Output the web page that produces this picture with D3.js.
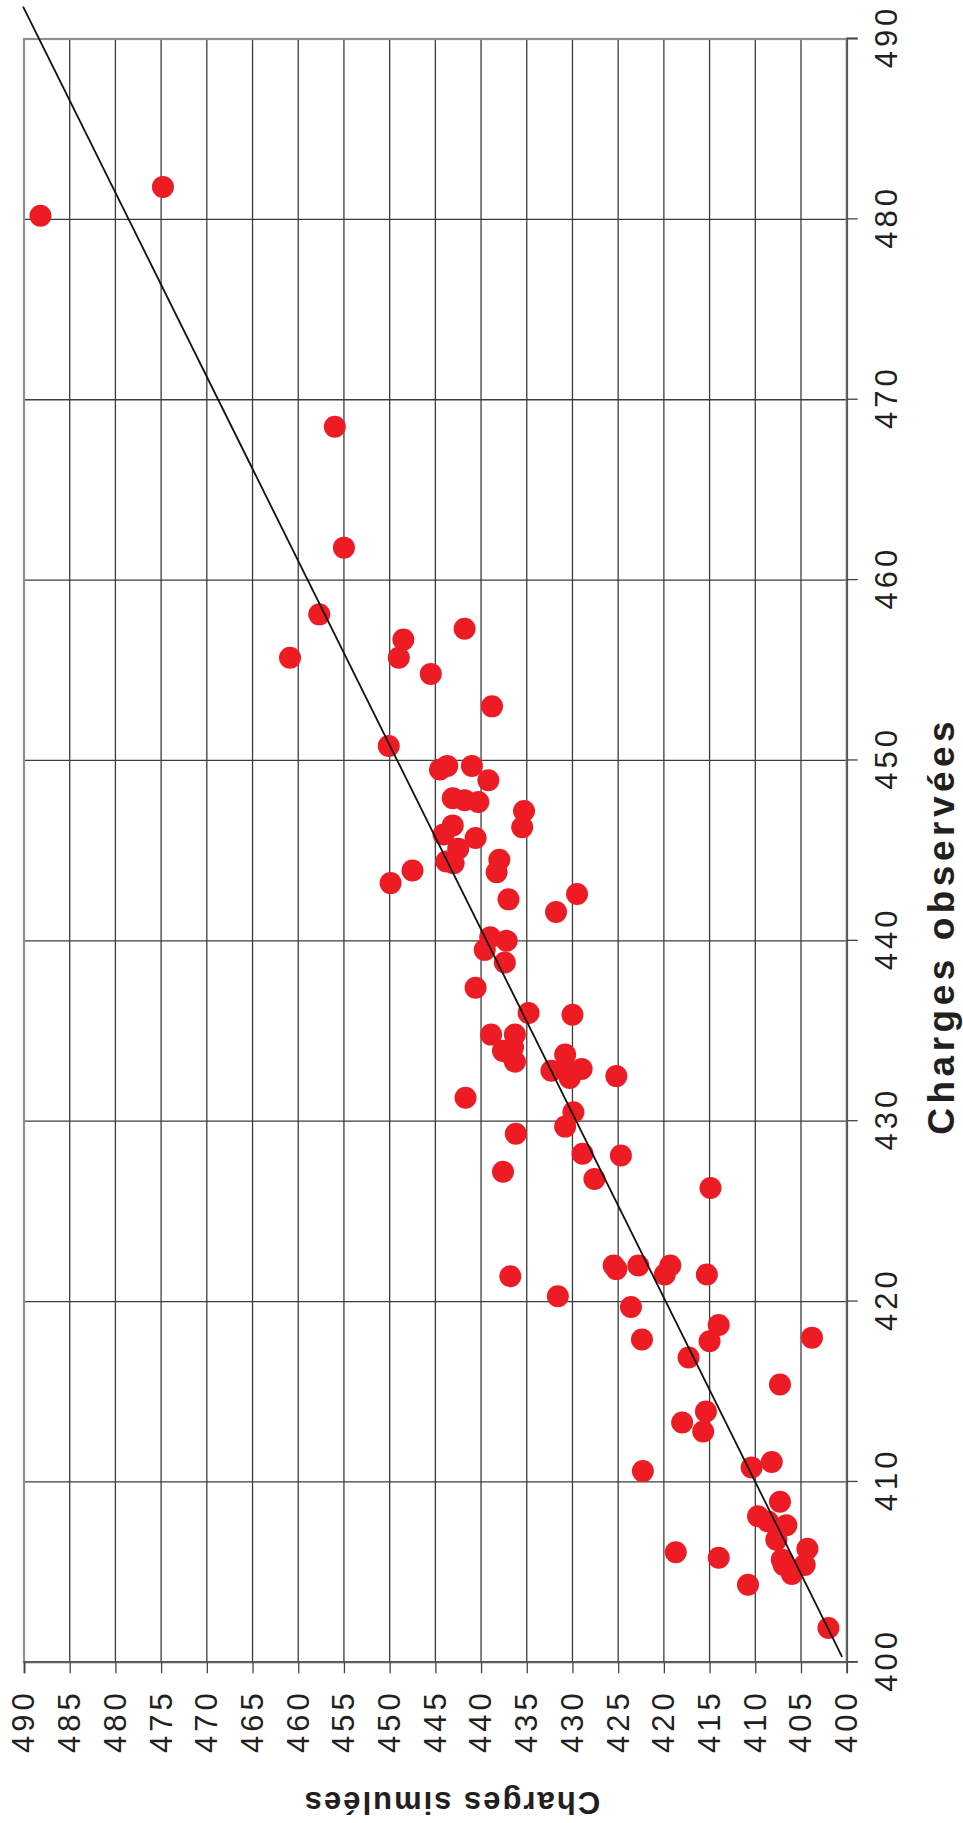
<!DOCTYPE html>
<html>
<head>
<meta charset="utf-8">
<script src="https://cdn.jsdelivr.net/npm/d3@7/dist/d3.min.js"></script>
<style>
  html, body { margin: 0; padding: 0; background: #ffffff; }
  svg { display: block; }
  text { font-family: "Liberation Sans", Arial, Helvetica, sans-serif; fill: #231f20; }
</style>
</head>
<body>
<script>
// ---- Data (Charges observées = x, Charges simulées = y) ----
const observed = [
  480.2, 481.8, 468.5, 461.8,
  458.1, 455.7, 456.7, 455.7, 457.3, 454.8, 453.0, 450.8, 449.5, 449.7,
  449.7, 448.9, 447.9, 447.8, 447.7, 447.2, 446.3, 446.4, 445.9, 445.7,
  445.1, 444.4, 444.3, 444.5, 443.8, 443.9, 443.2, 442.3, 442.6, 441.6,
  440.2, 440.0, 439.5, 438.8, 437.4, 436.0, 435.9, 434.8, 434.8,
  433.8, 433.3, 434.1, 433.9, 433.7, 432.8, 432.8, 432.4, 432.9, 432.5,
  431.3, 430.5, 429.7, 429.3, 428.2, 428.1, 427.2, 426.8, 426.3,
  422.0, 421.8, 422.0, 422.0, 421.5, 421.5, 421.4, 420.3, 419.7,
  418.7, 417.8, 417.9, 418.0, 416.9, 415.4, 413.9, 413.3, 412.8,
  410.8, 411.1, 410.6,
  408.9, 408.1, 407.8, 407.6, 406.8, 406.3, 405.7, 405.4, 404.9, 405.4,
  406.1, 405.8, 404.3, 401.9
];
const simulated = [
  488.2, 474.8, 456.0, 455.0,
  457.7, 460.9, 448.5, 449.0, 441.8, 445.5, 438.8, 450.1, 444.5, 443.7,
  441.0, 439.2, 443.1, 441.8, 440.3, 435.3, 435.5, 443.1, 444.1, 440.6,
  442.5, 443.8, 443.0, 438.0, 438.3, 447.5, 449.9, 437.0, 429.5, 431.8,
  439.0, 437.2, 439.6, 437.4, 440.6, 434.8, 430.0, 438.9, 436.3,
  437.0, 436.3, 436.5, 437.6, 430.8, 432.3, 430.5, 430.3, 429.0, 425.2,
  441.7, 429.9, 430.8, 436.2, 428.9, 424.7, 437.6, 427.6, 414.9,
  425.5, 425.2, 422.8, 419.3, 419.9, 415.3, 436.8, 431.6, 423.6,
  414.0, 415.0, 422.4, 403.8, 417.3, 407.3, 415.4, 418.0, 415.7,
  410.4, 408.2, 422.3,
  407.3, 409.7, 408.6, 406.6, 407.7, 404.3, 407.1, 406.9, 406.0, 404.6,
  418.7, 414.0, 410.8, 402.0
];
// Trend line end points (observed, simulated)
const lineObserved = [400.3, 491.8];
const lineSimulated = [400.5, 490.1];

const observedTicks = [400, 410, 420, 430, 440, 450, 460, 470, 480, 490];
const simulatedTicks = [400, 405, 410, 415, 420, 425, 430, 435, 440, 445, 450, 455, 460, 465, 470, 475, 480, 485, 490];

const xTitle = "Charges observées";
const yTitle = "Charges simulées";

// ---- Layout ----
const width = 963, height = 1823;
const originX = 24, originY = 1662.3;      // screen position of plot corner (obs 400 / sim 490)
const plotW = 1623.3;                       // length of observed axis
const plotH = 822.7;                        // length of simulated axis

const svg = d3.select("body").append("svg")
  .attr("width", width).attr("height", height);
svg.append("rect").attr("width", width).attr("height", height).attr("fill", "#fff");

// Whole chart is rotated a quarter-turn counter-clockwise
const g = svg.append("g")
  .attr("transform", `translate(${originX},${originY}) rotate(-90)`);

const x = d3.scaleLinear().domain([400, 490]).range([0, plotW]);
const y = d3.scaleLinear().domain([400, 490]).range([plotH, 0]);

// Gridlines
g.append("g").selectAll("line.vx").data(observedTicks).join("line")
  .attr("x1", d => x(d)).attr("x2", d => x(d))
  .attr("y1", 0).attr("y2", plotH)
  .attr("stroke", "#3c3c3c").attr("stroke-width", 1.3);
g.append("g").selectAll("line.hy").data(simulatedTicks).join("line")
  .attr("x1", 0).attr("x2", plotW)
  .attr("y1", d => y(d)).attr("y2", d => y(d))
  .attr("stroke", "#3c3c3c").attr("stroke-width", 1.3);

// Plot frame
g.append("rect").attr("x", 0).attr("y", 0).attr("width", plotW).attr("height", plotH)
  .attr("fill", "none").attr("stroke", "#8f8f8f").attr("stroke-width", 2.2);

// Axes
const xAxis = g.append("g").attr("transform", `translate(0,${plotH})`)
  .call(d3.axisBottom(x).tickValues(observedTicks).tickSize(11).tickPadding(17).tickFormat(d3.format("d")));
const yAxis = g.append("g")
  .call(d3.axisLeft(y).tickValues(simulatedTicks).tickSize(11).tickPadding(16).tickFormat(d3.format("d")));
[xAxis, yAxis].forEach(a => {
  a.select(".domain").attr("stroke", "#555").attr("stroke-width", 1.8);
  a.selectAll(".tick line").attr("stroke", "#444").attr("stroke-width", 1.3);
  a.selectAll(".tick text")
    .attr("font-family", "Liberation Sans, Arial, sans-serif")
    .attr("font-size", 31).attr("letter-spacing", "4px").attr("fill", "#231f20");
});
xAxis.selectAll(".tick text").attr("dx", "2px");

// Points
g.append("g").selectAll("circle").data(observed.map((o, i) => [o, simulated[i]])).join("circle")
  .attr("cx", d => x(d[0])).attr("cy", d => y(d[1])).attr("r", 11)
  .attr("fill", "#ed1c24");

// Trend line
g.append("line")
  .attr("x1", x(lineObserved[0])).attr("y1", y(lineSimulated[0]))
  .attr("x2", x(lineObserved[1])).attr("y2", y(lineSimulated[1]))
  .attr("stroke", "#111").attr("stroke-width", 1.8);

// Axis titles
g.append("text")
  .attr("x", originY - 928).attr("y", 930).attr("dx", 2.25)
  .attr("text-anchor", "middle")
  .attr("font-size", 37).attr("font-weight", "bold").attr("letter-spacing", "4.5px")
  .text(xTitle);
g.append("text")
  .attr("transform", `translate(-129.4,427.5) rotate(-90)`)
  .attr("text-anchor", "middle")
  .attr("font-size", 31).attr("font-weight", "bold").attr("letter-spacing", "2px")
  .text(yTitle);
</script>
</body>
</html>
